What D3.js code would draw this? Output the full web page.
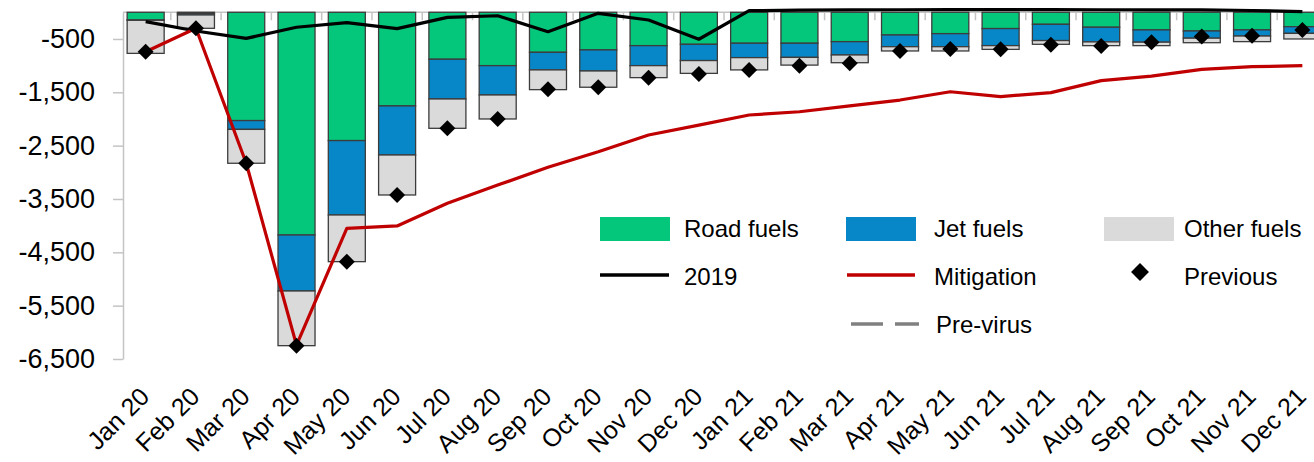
<!DOCTYPE html>
<html>
<head>
<meta charset="utf-8">
<script src="https://cdn.jsdelivr.net/npm/d3@7"></script>
<style>
  html, body { margin: 0; padding: 0; background: #ffffff; }
  svg { display: block; font-family: "Liberation Sans", Arial, sans-serif; }
</style>
</head>
<body>
<svg id="chart" width="1314" height="462"></svg>
<script>
// Monthly change in oil demand by fuel (kb/d), with comparison scenarios
const months = ["Jan 20","Feb 20","Mar 20","Apr 20","May 20","Jun 20","Jul 20","Aug 20","Sep 20","Oct 20","Nov 20","Dec 20",
                "Jan 21","Feb 21","Mar 21","Apr 21","May 21","Jun 21","Jul 21","Aug 21","Sep 21","Oct 21","Nov 21","Dec 21"];
const roadFuels  = [-145,-20,-2030,-4175,-2405,-1755,-880,-1000,-750,-705,-625,-600,-580,-580,-550,-425,-400,-305,-225,-280,-330,-350,-330,-270];
const jetFuels   = [-5,-30,-165,-1050,-1395,-920,-745,-550,-330,-395,-375,-305,-270,-265,-250,-220,-245,-320,-305,-275,-230,-135,-115,-125];
const otherFuels = [-620,-250,-635,-1025,-875,-750,-550,-450,-370,-305,-225,-240,-230,-145,-145,-80,-80,-70,-70,-70,-65,-85,-105,-105];
const series2019 = [-175,-350,-490,-280,-195,-305,-95,-65,-365,-20,-145,-505,30,40,45,48,50,50,50,48,45,44,34,12];
const mitigation = [-740,-300,-2830,-6240,-4050,-4005,-3580,-3240,-2905,-2615,-2300,-2115,-1925,-1865,-1755,-1645,-1490,-1580,-1505,-1280,-1195,-1070,-1020,-1000];
const previous   = [-740,-300,-2830,-6250,-4675,-3425,-2175,-2000,-1445,-1405,-1225,-1155,-1080,-1000,-955,-725,-690,-695,-610,-630,-560,-455,-440,-330];
const yTicks = [-500,-1500,-2500,-3500,-4500,-5500,-6500];

const fuelKeys   = ["road","jet","other"];
const fuelNames  = ["Road fuels","Jet fuels","Other fuels"];
const fuelColors = ["#05C77B","#0787C7","#DADADA"];

const rows = months.map((m, i) => ({ month: m, road: roadFuels[i], jet: jetFuels[i], other: otherFuels[i] }));

const svg = d3.select("#chart");

const x = d3.scaleBand().domain(months).range([120.5, 1327.5]).paddingInner(0.264).paddingOuter(0.132);
const y = d3.scaleLinear().domain([-6500, 0]).range([359, 12.3]);
const cx = m => x(m) + x.bandwidth() / 2;

// Axes
const fmt = d3.formatLocale({ decimal: ".", thousands: ",", grouping: [3], currency: ["", ""], minus: "-" }).format(",");
const yAxis = svg.append("g")
  .attr("transform", "translate(123,0)")
  .call(d3.axisLeft(y).tickValues(yTicks).tickFormat(fmt).tickSize(10).tickSizeOuter(0).tickPadding(18));
yAxis.select(".domain").attr("stroke", "#C4C4C4").attr("stroke-width", 1.5);
yAxis.selectAll(".tick line").attr("stroke", "#C4C4C4").attr("stroke-width", 1.5);
yAxis.selectAll(".tick text").attr("fill", "#000").attr("font-size", 27).attr("font-family", "Liberation Sans, Arial, sans-serif");

// zero line along the top with inward ticks between months
const zeroG = svg.append("g");
zeroG.append("line")
  .attr("x1", 123).attr("x2", 1314).attr("y1", y(0)).attr("y2", y(0))
  .attr("stroke", "#C4C4C4").attr("stroke-width", 1.5);
zeroG.selectAll("line.b").data(months.slice(1)).join("line")
  .attr("class", "b")
  .attr("x1", m => x(m) - x.step() * x.paddingInner() / 2)
  .attr("x2", m => x(m) - x.step() * x.paddingInner() / 2)
  .attr("y1", y(0)).attr("y2", y(0) + 8)
  .attr("stroke", "#C4C4C4").attr("stroke-width", 1.5);

// Month labels
svg.append("g").selectAll("text").data(months).join("text")
  .attr("transform", m => `translate(${cx(m) - 1},392) rotate(-45)`)
  .attr("text-anchor", "end")
  .attr("dy", "0.35em")
  .attr("font-size", 25)
  .attr("fill", "#000")
  .text(m => m);

// Stacked bars
const stacked = d3.stack().keys(fuelKeys).offset(d3.stackOffsetDiverging)(rows);
svg.append("g").selectAll("g").data(stacked).join("g")
  .attr("fill", (d, i) => fuelColors[i])
  .selectAll("rect").data(d => d).join("rect")
  .attr("x", d => x(d.data.month))
  .attr("width", x.bandwidth())
  .attr("y", d => y(Math.max(d[0], d[1])))
  .attr("height", d => Math.abs(y(d[0]) - y(d[1])))
  .attr("stroke", "#3C3C3C")
  .attr("stroke-width", 1.3);

// Lines
const line = d3.line().x(d => cx(d.m)).y(d => y(d.v));
const pts = arr => arr.map((v, i) => ({ m: months[i], v }));
svg.append("path").datum(pts(series2019)).attr("d", line)
  .attr("fill", "none").attr("stroke", "#000").attr("stroke-width", 3.2).attr("stroke-linejoin", "round");
svg.append("path").datum(pts(mitigation)).attr("d", line)
  .attr("fill", "none").attr("stroke", "#C00000").attr("stroke-width", 3.2).attr("stroke-linejoin", "round");

// Previous outlook markers
const diamond = d3.symbol().type(d3.symbolSquare).size(128);
svg.append("g").selectAll("path").data(pts(previous)).join("path")
  .attr("d", diamond)
  .attr("transform", d => `translate(${cx(d.m)},${y(d.v)}) rotate(45)`)
  .attr("fill", "#000");

// Legend
const lg = svg.append("g").attr("font-size", 24).attr("fill", "#000");
const colX = [600, 846, 1104];
const textX = [684, 934, 1184];
fuelNames.forEach((name, i) => {
  lg.append("rect").attr("x", colX[i]).attr("y", 217).attr("width", 70).attr("height", 24).attr("fill", fuelColors[i]);
  lg.append("text").attr("x", textX[i]).attr("y", 236.5).text(name);
});
lg.append("line").attr("x1", 600).attr("x2", 669).attr("y1", 275).attr("y2", 275).attr("stroke", "#000").attr("stroke-width", 3.5);
lg.append("text").attr("x", 684).attr("y", 284.5).text("2019");
lg.append("line").attr("x1", 847).attr("x2", 915).attr("y1", 275).attr("y2", 275).attr("stroke", "#C00000").attr("stroke-width", 3.5);
lg.append("text").attr("x", 934).attr("y", 284.5).text("Mitigation");
lg.append("path").attr("d", d3.symbol().type(d3.symbolSquare).size(160)).attr("transform", "translate(1140,272) rotate(45)").attr("fill", "#000");
lg.append("text").attr("x", 1184).attr("y", 284.5).text("Previous");
lg.append("line").attr("x1", 851).attr("x2", 919).attr("y1", 324).attr("y2", 324)
  .attr("stroke", "#808080").attr("stroke-width", 3.5).attr("stroke-dasharray", "32,12");
lg.append("text").attr("x", 936).attr("y", 332.5).text("Pre-virus");
</script>
</body>
</html>
